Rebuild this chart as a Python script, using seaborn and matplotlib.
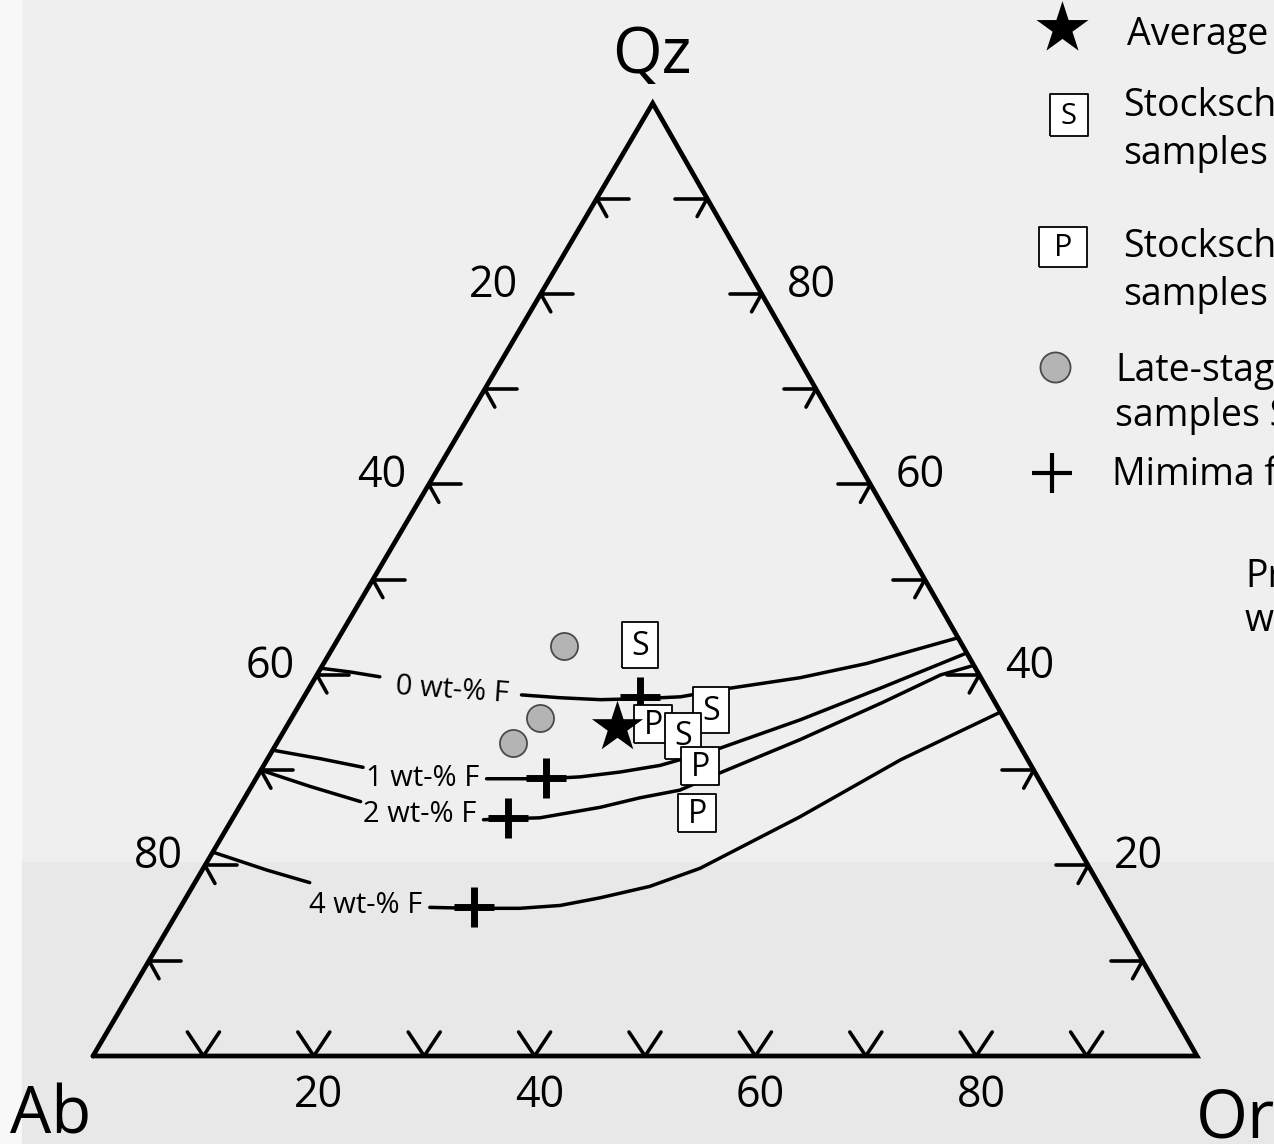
import numpy as np
import matplotlib
matplotlib.use("Agg")
import matplotlib.pyplot as plt
from matplotlib.patches import Rectangle
import seaborn as sns

# ---------------- compositions (Qz and Or in %, Ab = 100 - Qz - Or) ----------------
avg_qz = [34.5]
avg_or = [30.0]

s_qz = [43.1, 36.3, 33.6]
s_or = [27.7, 37.6, 36.4]

p_qz = [34.8, 30.4, 25.5]
p_or = [33.1, 39.6, 41.8]

late_qz = [43.0, 35.5, 32.9]
late_or = [20.9, 22.5, 21.4]

min_qz = [37.7, 29.2, 25.0, 15.6]
min_or = [30.4, 26.2, 24.9, 26.6]

# cotectic curves for different F contents (left and right of the label)
f0_left_qz = [40.7, 40.3, 39.8]
f0_left_or = [0.0, 2.9, 5.8]
f0_right_qz = [37.9, 37.6, 37.4, 37.5, 37.7, 38.6, 39.7, 41.2, 43.9]
f0_right_or = [19.6, 23.3, 27.0, 30.5, 34.1, 38.1, 43.9, 49.2, 56.1]

f1_left_qz = [32.1, 31.2, 30.3]
f1_left_or = [0.0, 4.8, 9.1]
f1_right_qz = [29.1, 29.1, 29.3, 29.8, 30.5, 32.3, 35.3, 38.7, 42.3]
f1_right_or = [20.9, 26.2, 29.3, 32.6, 35.9, 40.4, 46.2, 51.9, 57.7]

f2_left_qz = [30.0, 28.3, 26.7]
f2_left_or = [0.0, 5.3, 10.7]
f2_right_qz = [24.8, 24.9, 25.0, 26.1, 27.1, 27.9, 29.7, 33.2, 37.1, 40.0, 41.0]
f2_right_or = [22.8, 25.0, 27.8, 32.7, 35.8, 39.0, 41.7, 47.2, 52.7, 56.5, 59.0]

f4_left_qz = [21.4, 19.5, 18.2]
f4_left_or = [0.0, 5.9, 10.4]
f4_right_qz = [15.6, 15.5, 15.5, 15.8, 16.6, 17.8, 19.7, 25.1, 31.1, 36.1]
f4_right_or = [22.6, 26.6, 30.8, 34.3, 37.5, 41.4, 45.0, 51.3, 57.4, 63.9]

curve_names = ["0 wt-% F", "1 wt-% F", "2 wt-% F", "4 wt-% F"]

tick_steps = [10, 20, 30, 40, 50, 60, 70, 80, 90]
ab_labels = [20, 40, 60, 80]
qz_labels = [80, 60, 40, 20]
or_labels = [20, 40, 60, 80]

legend_lines = [
    ["Average"],
    ["Stocksch", "samples"],
    ["Stocksch", "samples"],
    ["Late-stag", "samples S"],
    ["Mimima f"],
    ["Pr", "w"],
]

# ---------------- geometry helpers ----------------
W, H = 1274, 1144
SC = 11.04            # pixels per composition unit
X0, Y0 = 93, 1056     # Ab corner in pixels
SKEW, HGT = 0.507, 0.863


def tern(qz, orr):
    qz = np.asarray(qz, float)
    orr = np.asarray(orr, float)
    return orr + SKEW * qz, HGT * qz


def px(x, y):
    return (x - X0) / SC, (Y0 - y) / SC


U = 1.0 / SC  # one pixel in data units

sns.set_theme(style="white")
plt.rcParams["font.family"] = ["Open Sans", "DejaVu Sans"]
plt.rcParams["text.color"] = "black"

fig = plt.figure(figsize=(W / 100, H / 100), dpi=100)
fig.patch.set_facecolor("#efefef")
fig.add_artist(Rectangle((0, 0), 22 / W, 1, transform=fig.transFigure,
                         color="#f8f8f8", zorder=-2, lw=0))
fig.add_artist(Rectangle((22 / W, 0), 1, (H - 862) / H, transform=fig.transFigure,
                         color="#e8e8e8", zorder=-1, lw=0))

ax = fig.add_axes([0, 0, 1, 1])
ax.set_xlim(-X0 / SC, (W - X0) / SC)
ax.set_ylim(-(H - Y0) / SC, Y0 / SC)
ax.axis("off")

K = "black"

# triangle outline
tx, ty = tern([0, 0, 100, 0], [0, 100, 0, 0])
ax.plot(tx, ty, color=K, lw=3.4, solid_joinstyle="miter", zorder=2)

# ticks on the three edges
for q in tick_steps:
    # Ab side (left)
    x, y = tern(q, 0)
    ax.plot([x, x + 32 * U], [y, y], color=K, lw=2.6, zorder=2)
    ax.plot([x, x + 10 * U], [y, y - 18 * U], color=K, lw=2.6, zorder=2)
    # Or side (right)
    x, y = tern(q, 100 - q)
    ax.plot([x - 32 * U, x], [y, y], color=K, lw=2.6, zorder=2)
    ax.plot([x, x - 10 * U], [y, y - 18 * U], color=K, lw=2.6, zorder=2)
    # base
    x, y = tern(0, q)
    ax.plot([x - 16 * U, x, x + 16 * U], [y + 24 * U, y, y + 24 * U],
            color=K, lw=2.6, zorder=2)

TICKFS = 31
for ab in ab_labels:
    x, y = tern(100 - ab, 0)
    ax.text(x - 47 * U, y - 3 * U, str(ab), fontsize=TICKFS, ha="center", va="baseline")
for q in qz_labels:
    x, y = tern(q, 100 - q)
    ax.text(x + 50 * U, y - 3 * U, str(q), fontsize=TICKFS, ha="center", va="baseline")
for o in or_labels:
    x, y = tern(0, o)
    ax.text(x + 5 * U, y - 51 * U, str(o), fontsize=TICKFS, ha="center", va="baseline")

# apex labels
fig.text(652 / W, 1 - 73 / H, "Qz", fontsize=46, ha="center", va="baseline")
fig.text(10 / W, 1 - 1133 / H, "Ab", fontsize=47, ha="left", va="baseline")
fig.text(1196 / W, 1 - 1137 / H, "Or", fontsize=48, ha="left", va="baseline")

# cotectic curves
curves = [
    (f0_left_qz, f0_left_or, f0_right_qz, f0_right_or),
    (f1_left_qz, f1_left_or, f1_right_qz, f1_right_or),
    (f2_left_qz, f2_left_or, f2_right_qz, f2_right_or),
    (f4_left_qz, f4_left_or, f4_right_qz, f4_right_or),
]
for lq, lo, rq, ro in curves:
    for qq, oo in ((lq, lo), (rq, ro)):
        cx, cy = tern(qq, oo)
        sns.lineplot(x=cx, y=cy, sort=False, estimator=None, color=K, lw=2.5,
                     ax=ax, zorder=3)

label_pos = [(452, 698, -4), (423, 786, 0), (420, 822, 0), (366, 913, 0)]
for name, (lx, ly, rot) in zip(curve_names, label_pos):
    dx, dy = px(lx, ly)
    ax.text(dx, dy, name, fontsize=21, ha="center", va="baseline", rotation=rot,
            rotation_mode="anchor", zorder=3)

# sample symbols
S_BOX = [(-0.411, -0.5), (0.411, -0.5), (0.411, 0.5), (-0.411, 0.5), (-0.411, -0.5)]
P_BOX = [(-0.49, -0.5), (0.49, -0.5), (0.49, 0.5), (-0.49, 0.5), (-0.49, -0.5)]

mx, my = tern(min_qz, min_or)
sns.scatterplot(x=mx, y=my, marker="+", s=830, color=K, linewidth=5, ax=ax, zorder=4)

cx, cy = tern(late_qz, late_or)
sns.scatterplot(x=cx, y=cy, marker="o", s=380, color="#b4b4b4", edgecolor="#4a4a4a",
                linewidth=1.3, ax=ax, zorder=4)

boxes = [("S", q, o) for q, o in zip(s_qz, s_or)] + [("P", q, o) for q, o in zip(p_qz, p_or)]
# stacking: P of centre under the lower S, that S under the middle P
box_z = [5, 5, 6, 5, 7, 5]
for (letter, q, o), z in zip(boxes, box_z):
    bx, by = tern([q], [o])
    if letter == "S":
        sns.scatterplot(x=bx, y=by, marker=S_BOX, s=1050, color="white", edgecolor=K,
                        linewidth=1.3, ax=ax, zorder=z)
    else:
        sns.scatterplot(x=bx, y=by, marker=P_BOX, s=740, color="white", edgecolor=K,
                        linewidth=1.3, ax=ax, zorder=z)
    ax.text(bx[0], by[0] - 1 * U, letter, fontsize=23, ha="center", va="center",
            zorder=z + 0.5)

sx, sy = tern(avg_qz, avg_or)
sns.scatterplot(x=sx, y=sy, marker="*", s=1500, color=K, edgecolor=K, linewidth=0,
                ax=ax, zorder=9)

# ---------------- key ----------------
kx, ky = px(1062, 28)
sns.scatterplot(x=[kx], y=[ky], marker="*", s=1550, color=K, linewidth=0, ax=ax, zorder=9)
kx, ky = px(1069, 115)
sns.scatterplot(x=[kx], y=[ky], marker=[(-0.45, -0.5), (0.45, -0.5), (0.45, 0.5), (-0.45, 0.5), (-0.45, -0.5)],
                s=900, color="white", edgecolor=K, linewidth=1.3, ax=ax, zorder=5)
ax.text(kx, ky - 1 * U, "S", fontsize=21, ha="center", va="center", zorder=6)
kx, ky = px(1063, 247)
sns.scatterplot(x=[kx], y=[ky], marker=[(-0.5, -0.42), (0.5, -0.42), (0.5, 0.42), (-0.5, 0.42), (-0.5, -0.42)],
                s=1200, color="white", edgecolor=K, linewidth=1.3, ax=ax, zorder=5)
ax.text(kx, ky - 1 * U, "P", fontsize=22, ha="center", va="center", zorder=6)
kx, ky = px(1055, 367)
sns.scatterplot(x=[kx], y=[ky], marker="o", s=470, color="#b4b4b4", edgecolor="#4a4a4a",
                linewidth=1.3, ax=ax, zorder=5)
kx, ky = px(1052, 473)
sns.scatterplot(x=[kx], y=[ky], marker="+", s=830, color=K, linewidth=3, ax=ax, zorder=5)

LEGFS = 27
legend_xy = [
    [(1127, 45)],
    [(1123, 116), (1123, 164)],
    [(1123, 257), (1123, 305)],
    [(1115, 381), (1115, 426)],
    [(1112, 485)],
    [(1245, 587), (1245, 631)],
]
for lines, places in zip(legend_lines, legend_xy):
    for txt, (lx, ly) in zip(lines, places):
        fig.text(lx / W, 1 - ly / H, txt, fontsize=LEGFS, ha="left", va="baseline")

fig.savefig("out.png", dpi=100, facecolor=fig.get_facecolor())
